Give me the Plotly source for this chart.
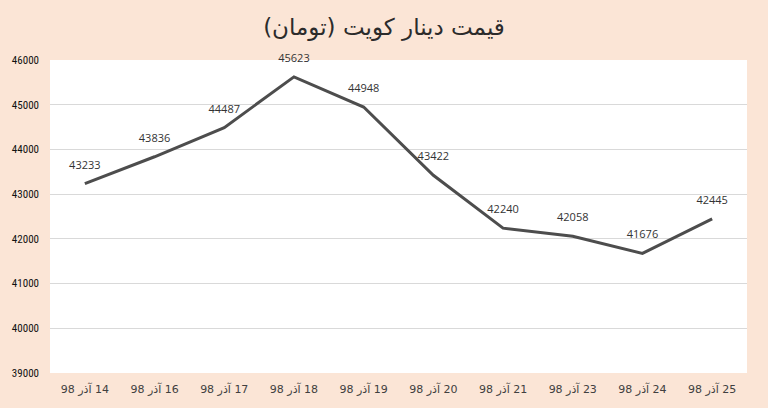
import plotly.graph_objects as go

RLE = "\u202b"
PDF = "\u202c"

dates = ["14 آذر 98", "16 آذر 98", "17 آذر 98", "18 آذر 98", "19 آذر 98",
         "20 آذر 98", "21 آذر 98", "23 آذر 98", "24 آذر 98", "25 آذر 98"]
prices = [43233, 43836, 44487, 45623, 44948, 43422, 42240, 42058, 41676, 42445]
title_text = "قیمت دینار کویت (تومان)"
y_ticks = [39000, 40000, 41000, 42000, 43000, 44000, 45000, 46000]

x_labels = [RLE + d + PDF for d in dates]

fig = go.Figure()
fig.add_trace(go.Scatter(
    x=x_labels, y=prices, mode="lines",
    line=dict(color="#4d4d4d", width=3),
    hoverinfo="skip",
))
fig.add_trace(go.Scatter(
    x=x_labels, y=prices, mode="markers+text",
    marker=dict(size=18, color="rgba(0,0,0,0)"),
    text=[str(p) for p in prices], textposition="top center",
    textfont=dict(size=11, color="#333333", family="Open Sans, DejaVu Sans"),
    cliponaxis=False, hoverinfo="skip",
))

fig.update_layout(
    width=768, height=408,
    paper_bgcolor="#FBE5D6", plot_bgcolor="#FFFFFF",
    margin=dict(l=50, r=21, t=60, b=35),
    showlegend=False,
    title=dict(text=RLE + title_text + PDF, x=0.5, xanchor="center", y=0.935, yanchor="middle",
               font=dict(size=23, color="#2b2b2b", family="DejaVu Sans")),
    font=dict(family="Open Sans, DejaVu Sans"),
)
fig.update_xaxes(type="category", range=[-0.5, len(dates) - 0.5], autorange=False,
                 showgrid=False, showline=False, zeroline=False,
                 ticks="", tickfont=dict(size=11, color="#404040", family="DejaVu Sans"),
                 ticklabelstandoff=8)
fig.update_yaxes(range=[39000, 46000], tickvals=y_ticks, ticktext=[str(v) for v in y_ticks],
                 showgrid=True, gridcolor="#D9D9D9", gridwidth=1, zeroline=False,
                 showline=False, ticks="",
                 tickfont=dict(size=11, color="#111111", family="Liberation Sans Narrow, Roboto Condensed, DejaVu Sans Condensed"),
                 ticklabelstandoff=10)

fig.write_html("out.html", config={"displayModeBar": False},
               post_script="document.body.style.margin='0';document.body.style.background='#FBE5D6';")
